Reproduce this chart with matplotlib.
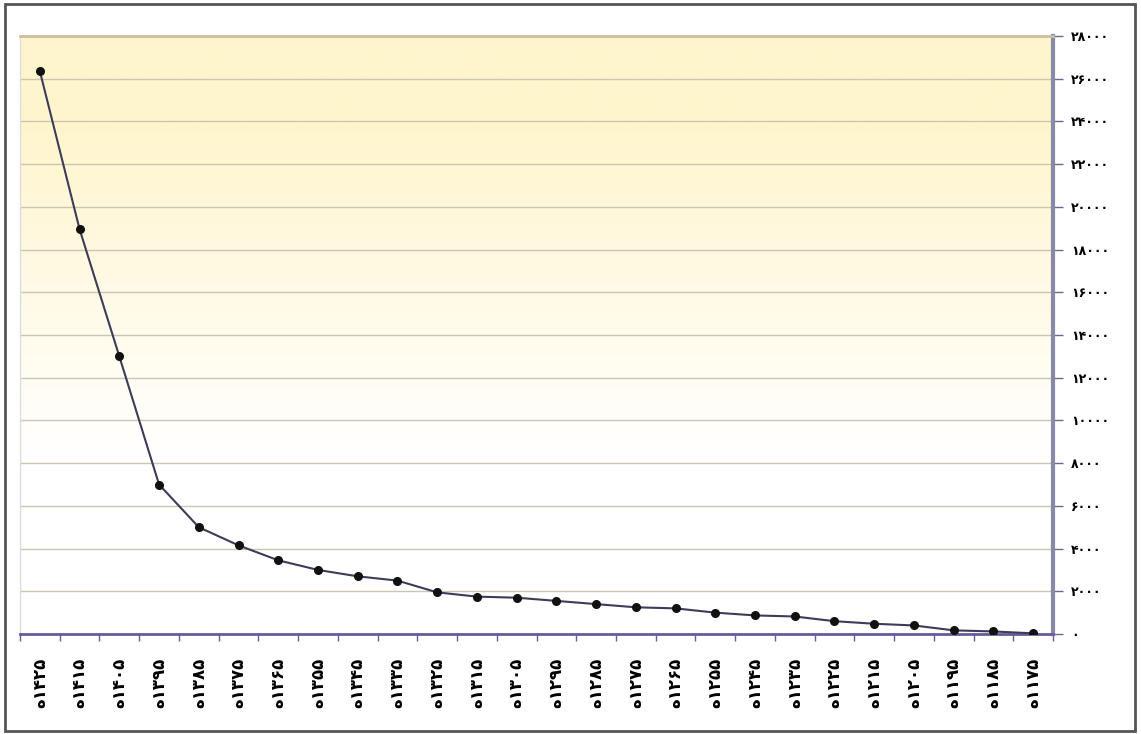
import numpy as np
import matplotlib
matplotlib.use("Agg")
import matplotlib.pyplot as plt
from matplotlib.patches import Rectangle
from matplotlib.ticker import FixedLocator

# سال‌ها (هجری) و مقادیر
years = [1425, 1415, 1405, 1395, 1385, 1375, 1365, 1355, 1345, 1335, 1325, 1315, 1305,
         1295, 1285, 1275, 1265, 1255, 1245, 1235, 1225, 1215, 1205, 1195, 1185, 1175]
values = [26350, 18950, 13000, 7000, 5000, 4150, 3450, 3000, 2700, 2500, 1950, 1750, 1700,
          1550, 1400, 1250, 1200, 1000, 870, 820, 600, 480, 400, 170, 120, 30]
y_ticks = list(range(0, 28001, 2000))

fa_digits = str.maketrans("0123456789", "۰۱۲۳۴۵۶۷۸۹")
x_labels = ["ه" + str(y).translate(fa_digits) for y in years]
y_labels = [str(v).translate(fa_digits) for v in y_ticks]

plt.rcParams['font.family'] = ['DejaVu Sans']

fig = plt.figure(figsize=(11.41, 7.34), dpi=100)
ax = fig.add_axes([20 / 1141, 100 / 734, 1033 / 1141, 598 / 734])

# پس‌زمینه گرادیان زرد به سفید
grad = np.linspace(0, 1, 256)
top = np.array([255, 245, 205]) / 255
white = np.array([255, 255, 255]) / 255
mix = np.clip((grad - 0.3) / 0.55, 0, 1)[:, None]
img = white * (1 - mix) + top * mix
ax.imshow(img[:, None, :], extent=[0, 1, 0, 1], transform=ax.transAxes,
          aspect='auto', origin='lower', zorder=0)

x = np.arange(len(years))
ax.plot(x, values, color='#3c3c58', lw=1.5, marker='o', ms=5.5,
        markerfacecolor='#111111', markeredgecolor='#111111', zorder=3)

ax.set_xlim(-0.5, len(years) - 0.5)
ax.set_ylim(0, 28000)

ax.yaxis.tick_right()
ax.set_yticks(y_ticks)
ax.set_yticklabels(y_labels, fontsize=9, fontweight='bold')
ax.tick_params(axis='y', direction='out', length=7, width=1, color='#6a6a8a', pad=6)
ax.grid(axis='y', color='#cbc5b2', lw=1, zorder=1)

ax.set_xticks(x)
ax.set_xticklabels(x_labels, rotation=90, fontsize=12, fontweight='bold', va='top')
ax.tick_params(axis='x', which='major', length=0, pad=17)
ax.xaxis.set_minor_locator(FixedLocator(np.arange(-0.5, len(years), 1)))
ax.tick_params(axis='x', which='minor', length=5, width=1, color='#6a5a9a', direction='out')

ax.spines['right'].set_color('#8888a8')
ax.spines['right'].set_linewidth(3)
ax.spines['bottom'].set_color('#6a5a9a')
ax.spines['bottom'].set_linewidth(2)
ax.spines['top'].set_color('#cbbf9f')
ax.spines['top'].set_linewidth(2)
ax.spines['left'].set_color('#dcdce4')
ax.spines['left'].set_linewidth(1)

# قاب بیرونی
fig.patches.append(Rectangle((5 / 1141, 3 / 734), 1130 / 1141, 727 / 734,
                             transform=fig.transFigure, fill=False,
                             edgecolor='#555555', lw=2))

fig.savefig("out.png", dpi=100)
